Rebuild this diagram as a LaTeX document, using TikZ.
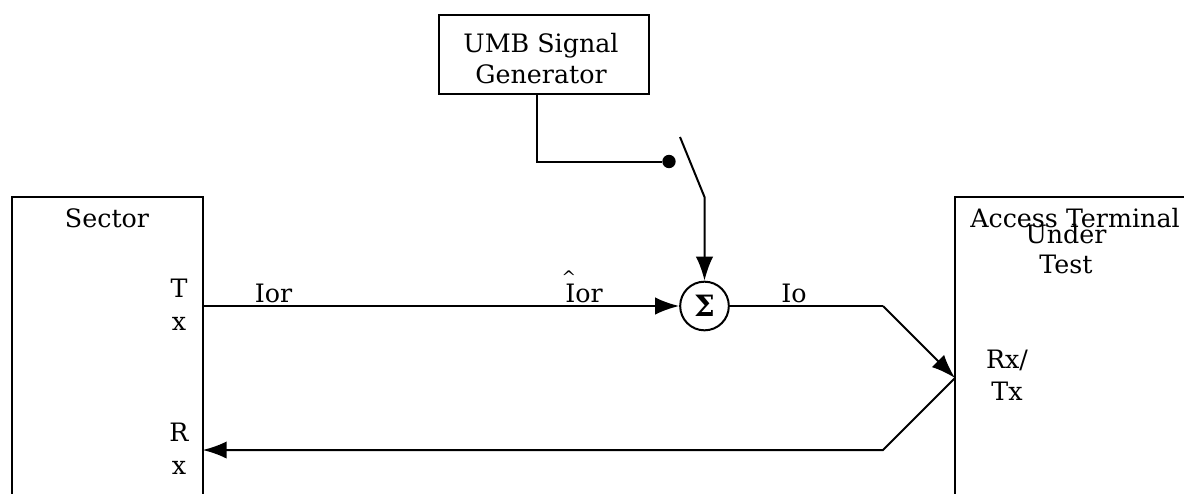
\documentclass[tikz,border=0pt]{standalone}
\usepackage{fontspec}
\setmainfont{DejaVu Serif}
\usetikzlibrary{positioning,arrows.meta}
\tikzset{
  block/.style={draw,line width=1.5pt,inner sep=0pt,outer sep=0pt,anchor=north west},
  lab/.style={inner sep=0pt,align=center,anchor=base,font=\fontsize{19}{24}\selectfont},
  wire/.style={line width=1.5pt},
  feed/.style={wire,-{Latex[length=18pt,width=13pt]}},
}
\begin{document}
\begin{tikzpicture}[x=0.75pt,y=-0.75pt]
  \useasboundingbox (0,0) rectangle (1184,493);
  \clip (0,0) rectangle (1184,493);
  \node[block,minimum width=143pt,minimum height=240pt] (sector) at (12,197) {};%
  \node[block,minimum width=240pt,minimum height=240pt] (term) at (955,197) {};%
  \node[block,minimum width=157.5pt,minimum height=59pt] (gen) at (439,15) {};%
  \node[lab] (gentext) at (541,83) {UMB Signal\\[-0.75pt]Generator};%
  \node[draw,circle,line width=1.5pt,minimum size=36.5pt,inner sep=0pt] (sum) at (704.5,306) {\fontsize{22}{22}\selectfont\bfseries Σ};%
  \node[fill,circle,minimum size=10pt,inner sep=0pt] (contact) at (669,161.5) {};%
  \coordinate (blade) at (680,137);
  \coordinate (knee) at (704.5,197);
  \coordinate (apex) at (955,378);
  \coordinate (upper) at (883,306);
  \coordinate (lower) at (883,450);
  \node[lab] (sectorname) at (107,227) {Sector};%
  \node[lab] (tx) at (179,330) {T\\[0.75pt]x};%
  \node[lab] (rx) at (179,474) {R\\[0.75pt]x};%
  \node[lab] (iorin) at (273.5,302) {Ior};%
  \node[lab] (iorout) at (584,302) {Ior};%
  \node[lab,font=\fontsize{13}{13}\selectfont] (hat) at (569,283) {\textasciicircum};%
  \node[lab] (io) at (794,302) {Io};%
  \node[lab] (termname) at (1075,227) {Access Terminal};%
  \node[lab] (under) at (1066,273) {Under\\[-1.5pt]Test};%
  \node[lab] (rxtx) at (1007,400) {Rx/\\Tx};%
  \draw[wire] (gen.south -| 537,0) |- (contact);
  \draw[feed] (blade) -- (knee) -- (sum);
  \draw[feed] (sector.east |- sum) -- (sum);
  \draw[wire] (sum) -- (upper);
  \draw[feed] (upper) -- (apex);
  \draw[feed] (apex) -- (lower) -- (sector.east |- lower);
\end{tikzpicture}
\end{document}
